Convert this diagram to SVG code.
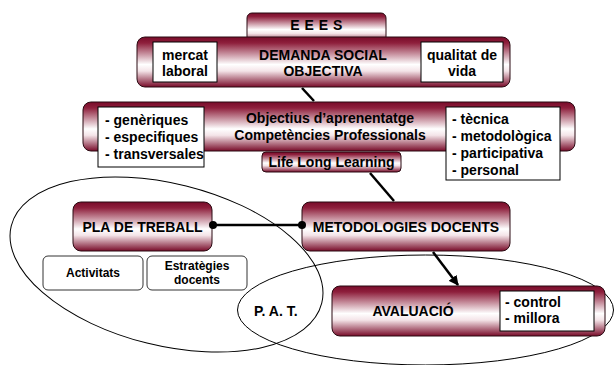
<svg xmlns="http://www.w3.org/2000/svg" width="616" height="365" viewBox="0 0 616 365">
<defs>
<linearGradient id="mar" x1="0" y1="0" x2="0" y2="1">
<stop offset="0" stop-color="#780b29"/>
<stop offset="0.12" stop-color="#8e1f3c"/>
<stop offset="0.55" stop-color="#ffffff"/>
<stop offset="0.68" stop-color="#f4e4e8"/>
<stop offset="1" stop-color="#780b29"/>
</linearGradient>
<marker id="arr" markerWidth="10" markerHeight="10" refX="9" refY="5" orient="auto" markerUnits="userSpaceOnUse" viewBox="0 0 10 10">
<path d="M0,0 L10,5 L0,10 z" fill="#000"/>
</marker>
</defs>
<style>
.g{fill:url(#mar);stroke:#2a0a12;stroke-width:1}
.w{fill:#fff;stroke:#000;stroke-width:1}
.wr{fill:#fff;stroke:#333;stroke-width:1}
.ell{fill:none;stroke:#000;stroke-width:1}
text{font-family:"Liberation Sans",Arial,sans-serif;font-weight:bold;font-size:14px;fill:#000}
.c{text-anchor:middle}
.s{font-size:12px}
.ln{stroke:#000;stroke-width:2.5;fill:none}
</style>
<g id="ellipses">
<ellipse class="ell" cx="166.5" cy="264.5" rx="160" ry="81" transform="rotate(14 166.5 264.5)"/>
<ellipse class="ell" cx="425.5" cy="310" rx="188" ry="55"/>
</g>
<g id="eees">
<rect class="g" x="247" y="13" width="139" height="30" rx="5"/>
<text class="c" x="316.5" y="29.5" font-size="13" letter-spacing="0.5">E E E S</text>
</g>
<g id="demanda">
<rect class="g" x="137" y="37" width="373" height="50" rx="8"/>
<text class="c" x="323" y="60">DEMANDA SOCIAL</text>
<text class="c" x="323" y="76">OBJECTIVA</text>
</g>
<g id="mercat">
<rect class="w" x="153" y="42" width="64" height="40"/>
<text class="c" x="185" y="60">mercat</text>
<text class="c" x="185" y="76">laboral</text>
</g>
<g id="qualitat">
<rect class="w" x="421" y="42" width="82" height="40"/>
<text class="c" x="462" y="60">qualitat de</text>
<text class="c" x="462" y="76">vida</text>
</g>
<g id="objectius">
<rect class="g" x="83" y="102" width="492" height="49" rx="8"/>
<text class="c" x="330" y="123">Objectius d’aprenentatge</text>
<text class="c" x="330" y="140">Competències Professionals</text>
</g>
<g id="generiques">
<rect class="w" x="98" y="107" width="106" height="60"/>
<text x="105" y="125">- genèriques</text>
<text x="105" y="142">- especifiques</text>
<text x="105" y="159">- transversales</text>
</g>
<g id="tecnica">
<rect class="w" x="446" y="107" width="114" height="73"/>
<text x="452" y="124">- tècnica</text>
<text x="452" y="141">- metodològica</text>
<text x="452" y="158">- participativa</text>
<text x="452" y="175">- personal</text>
</g>
<g id="lifelong">
<rect class="g" x="262" y="152" width="139" height="20" rx="4"/>
<text class="c" x="331.5" y="167">Life Long Learning</text>
</g>
<g id="pla">
<rect class="g" x="73" y="202" width="139" height="49" rx="8"/>
<text class="c" x="142.5" y="232">PLA DE TREBALL</text>
</g>
<g id="activitats">
<rect class="wr" x="43" y="256" width="100" height="34" rx="5"/>
<text class="c s" x="93" y="277">Activitats</text>
</g>
<g id="estrategies">
<rect class="wr" x="147" y="256" width="100" height="34" rx="5"/>
<text class="c s" x="197" y="270">Estratègies</text>
<text class="c s" x="197" y="284">docents</text>
</g>
<g id="metodologies">
<rect class="g" x="302" y="202" width="208" height="49" rx="8"/>
<text class="c" x="406" y="232">METODOLOGIES DOCENTS</text>
</g>
<g id="pat">
<text x="254" y="316" font-size="16">P. A. T.</text>
</g>
<g id="avaluacio">
<rect class="g" x="332" y="286" width="273" height="50" rx="8"/>
<text class="c" x="413" y="316">AVALUACIÓ</text>
</g>
<g id="control">
<rect class="w" x="500" y="291" width="94" height="40"/>
<text x="505" y="307">- control</text>
<text x="505" y="323">- millora</text>
</g>
<g id="connectors">
<line class="ln" x1="302" y1="88" x2="314" y2="101"/>
<line class="ln" x1="370" y1="173" x2="394" y2="201"/>
<line class="ln" x1="213" y1="225" x2="302" y2="225"/>
<circle cx="213" cy="225" r="4" fill="#000"/>
<circle cx="302" cy="225" r="4" fill="#000"/>
<line class="ln" x1="433" y1="252" x2="458" y2="285" marker-end="url(#arr)"/>
</g>
</svg>
